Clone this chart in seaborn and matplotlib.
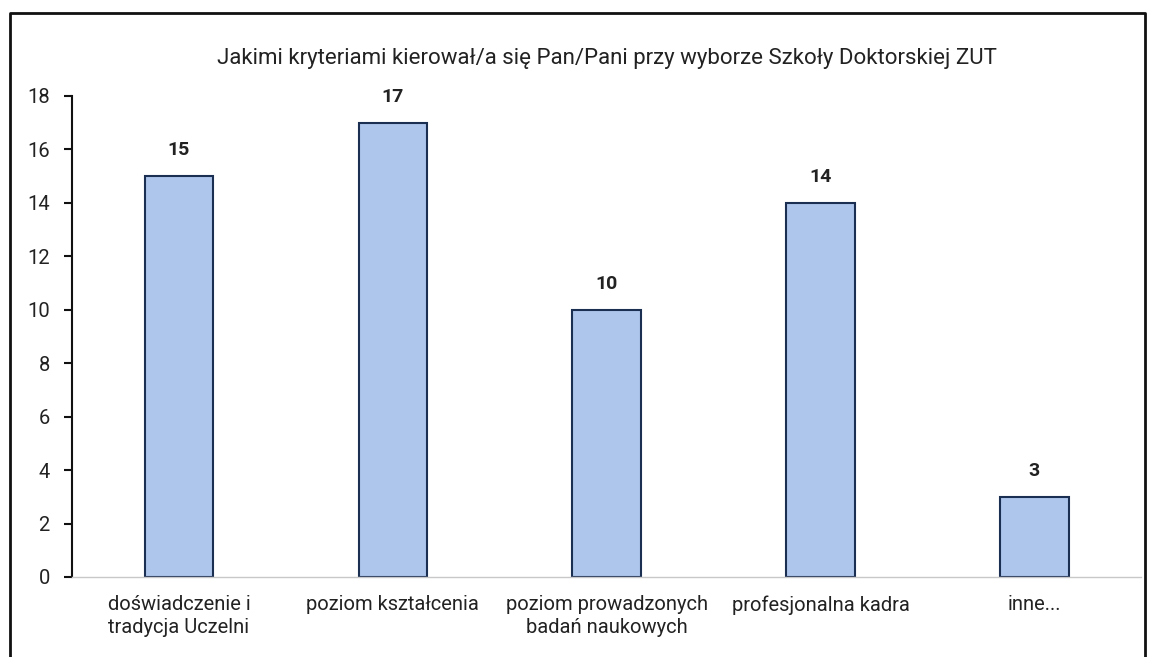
import numpy as np
import pandas as pd
import matplotlib.pyplot as plt
import seaborn as sns
from matplotlib.lines import Line2D

# dane
kategorie = ['doświadczenie i\ntradycja Uczelni', 'poziom kształcenia',
             'poziom prowadzonych\nbadań naukowych', 'profesjonalna kadra', 'inne...']
liczby = [15, 17, 10, 14, 3]
ticki_y = [0, 2, 4, 6, 8, 10, 12, 14, 16, 18]
tytul = 'Jakimi kryteriami kierował/a się Pan/Pani przy wyborze Szkoły Doktorskiej ZUT'

sns.set_theme(style='white')
plt.rcParams['font.family'] = ['Roboto', 'DejaVu Sans']

df = pd.DataFrame({'kategoria': kategorie, 'liczba': liczby})

fig = plt.figure(figsize=(11.54, 6.57), dpi=100)
ax = fig.add_axes([0.0624, 0.1218, 0.9266, 0.7322])

sns.barplot(data=df, x='kategoria', y='liczba', ax=ax, color='#AEC5EC',
            width=0.32, edgecolor='#1B2F52', linewidth=1.5, saturation=1)

for i, v in enumerate(liczby):
    ax.annotate(str(v), (i, v), xytext=(0, 12), textcoords='offset points',
                ha='center', va='bottom', fontsize=14, fontweight='bold', color='#222222')

ax.set_xlim(-0.5, 4.5)
ax.set_ylim(0, 18)
ax.set_yticks(ticki_y)
ax.set_xlabel('')
ax.set_ylabel('')
ax.tick_params(axis='y', which='major', direction='out', length=6, width=1.5,
               color='#111111', labelsize=14.5, labelcolor='#222222', pad=10, left=True)
ax.tick_params(axis='x', length=0, labelsize=14.5, labelcolor='#222222', pad=13)
for t in ax.get_xticklabels():
    t.set_linespacing(1.25)

for s in ['top', 'right']:
    ax.spines[s].set_visible(False)
ax.spines['left'].set_color('#111111')
ax.spines['left'].set_linewidth(1.5)
ax.spines['bottom'].set_color('#C8C8C8')
ax.spines['bottom'].set_linewidth(1.0)
ax.spines['bottom'].set_linestyle((0, (2, 1)))

ax.set_title(tytul, fontsize=16, color='#222222', pad=23)

# ramka wykresu
fig.add_artist(Line2D([10 / 1154, 10 / 1154, 1145 / 1154, 1145 / 1154],
                      [0, 1 - 13 / 657, 1 - 13 / 657, 0],
                      transform=fig.transFigure, color='#111111', linewidth=2))

fig.savefig('out.png', dpi=100)
